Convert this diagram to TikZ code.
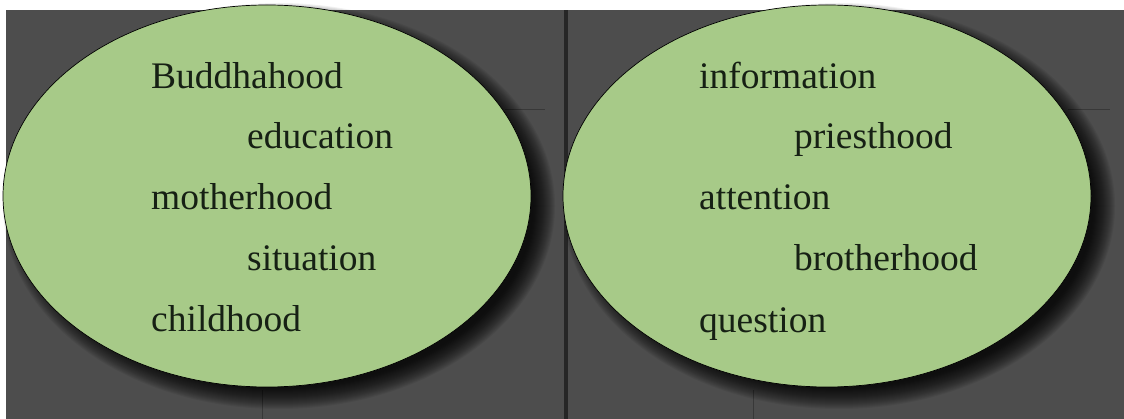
\documentclass[tikz,border=0pt]{standalone}
\usepackage{fontspec}
\setmainfont{Liberation Serif}
\definecolor{bggray}{RGB}{77,77,77}
\definecolor{divider}{RGB}{38,38,38}
\definecolor{faintline}{RGB}{56,56,56}
\definecolor{bubblegreen}{RGB}{167,202,136}
\definecolor{txt}{RGB}{22,32,20}
\begin{document}
\begin{tikzpicture}[x=1pt,y=-1pt,
  word/.style={anchor=base west,inner sep=0pt,text=txt,font=\fontsize{37.5}{40}\selectfont},
  bubble/.style={draw=black,line width=0.7pt,fill=bubblegreen},
  faint/.style={draw=faintline,line width=0.8pt},
  shade/.style={fill=black,opacity=0.06}]
\useasboundingbox (0,0) rectangle (1124,419);
\fill[white] (0,0) rectangle (1124,419);
\fill[bggray] (6,10) rectangle (1124,419);
\fill[divider] (564,10) rectangle (568,419);
% faint panel edges
\draw[faint] (262,390) -- (262,419);
\draw[faint] (505,109) -- (545,109);
\draw[faint] (753,390) -- (753,419);
\draw[faint] (1068,109) -- (1110,109);
% soft shadows
\foreach \s in {0,...,22}{
  \fill[shade] (279,206) ellipse ({276pt-\s pt} and {203pt-\s pt});
  \fill[shade] (839,206) ellipse ({276pt-\s pt} and {203pt-\s pt});
}
% bubbles
\draw[bubble] (267,196) ellipse ({264pt} and {191pt});
\draw[bubble] (827,196) ellipse ({264pt} and {191pt});
% left words
\node[word] (w1) at (151,89) {Buddhahood};
\node[word] (w2) at (247,149) {education};
\node[word] (w3) at (151,210) {motherhood};
\node[word] (w4) at (247,271) {situation};
\node[word] (w5) at (151,332) {childhood};
% right words
\node[word] (v1) at (699,89) {information};
\node[word] (v2) at (794,149) {priesthood};
\node[word] (v3) at (699,210) {attention};
\node[word] (v4) at (794,271) {brotherhood};
\node[word] (v5) at (699,333) {question};
\end{tikzpicture}
\end{document}
